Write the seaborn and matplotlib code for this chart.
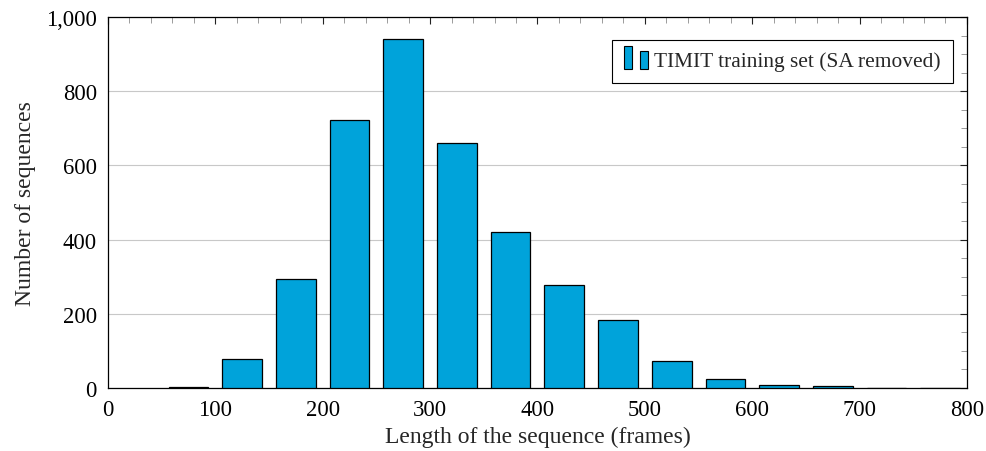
import matplotlib
matplotlib.use("Agg")
import matplotlib.pyplot as plt
import seaborn as sns
import pandas as pd
from matplotlib.patches import Rectangle
from matplotlib.legend_handler import HandlerBase
from matplotlib.ticker import MultipleLocator, FuncFormatter

# Histogram of sequence lengths (bins of 50 frames, labelled by bin centre)
bin_centers = [75, 125, 175, 225, 275, 325, 375, 425, 475, 525, 575, 625, 675, 725, 775]
counts = [3, 78, 294, 722, 942, 660, 421, 278, 184, 72, 23, 8, 5, 1, 1]
series_label = "TIMIT training set (SA removed)"
x_ticks = [0, 100, 200, 300, 400, 500, 600, 700, 800]
y_ticks = [0, 200, 400, 600, 800, 1000]
x_label = "Length of the sequence (frames)"
y_label = "Number of sequences"

BAR_COLOR = "#00A3DA"

sns.set_theme(style="white")
plt.rcParams["font.family"] = ["Liberation Serif", "DejaVu Serif"]

df = pd.DataFrame({"length": bin_centers, "count": counts})

fig = plt.figure(figsize=(9.87, 4.52), dpi=100)
ax = fig.add_axes([0.1094, 0.1394, 0.8703, 0.8208])

sns.barplot(data=df, x="length", y="count", native_scale=True, width=0.74,
            color=BAR_COLOR, saturation=1, edgecolor="black", linewidth=0.9,
            ax=ax, zorder=3)

ax.set_xlim(0, 800)
ax.set_ylim(0, 1000)
ax.set_xticks(x_ticks)
ax.set_yticks(y_ticks)
ax.xaxis.set_minor_locator(MultipleLocator(20))
ax.yaxis.set_minor_locator(MultipleLocator(50))
ax.yaxis.set_major_formatter(FuncFormatter(lambda v, p: f"{int(v):,}"))

ax.tick_params(which="both", direction="in", top=True, right=True,
               labelsize=16.3, colors="black")
ax.tick_params(which="major", length=5, width=0.8, color="#222222", pad=8)
ax.tick_params(which="minor", length=4.5, width=0.6, color="#8c8c8c")

ax.grid(axis="y", which="major", color="#c8c8c8", linewidth=0.8, zorder=0)
ax.set_axisbelow(True)
for s in ax.spines.values():
    s.set_color("black")
    s.set_linewidth(0.9)

ax.set_xlabel(x_label, fontsize=17, labelpad=4)
ax.set_ylabel(y_label, fontsize=17, labelpad=7)


class TwoBarHandler(HandlerBase):
    """Legend key made of two small bars standing on the text baseline."""

    def create_artists(self, legend, orig_handle, xdescent, ydescent,
                       width, height, fontsize, trans):
        x0, y0 = -xdescent, -ydescent - 0.2 * height
        bw = width * 0.33
        r1 = Rectangle((x0, y0), bw, height * 1.55, facecolor=BAR_COLOR,
                       edgecolor="black", linewidth=0.8, transform=trans)
        r2 = Rectangle((x0 + width * 0.67, y0), bw, height * 1.2,
                       facecolor=BAR_COLOR, edgecolor="black", linewidth=0.8,
                       transform=trans)
        return [r1, r2]


key = Rectangle((0, 0), 1, 1, facecolor=BAR_COLOR, edgecolor="black")
leg = ax.legend([key], [series_label], handler_map={Rectangle: TwoBarHandler()},
                loc="upper right", bbox_to_anchor=(0.9834, 0.9388),
                borderaxespad=0, fontsize=15.4,
                frameon=True, fancybox=False, framealpha=1, edgecolor="black",
                handlelength=1.12, handletextpad=0.3, borderpad=0.55)
leg.get_frame().set_linewidth(0.8)

fig.savefig("out.png", dpi=100)
